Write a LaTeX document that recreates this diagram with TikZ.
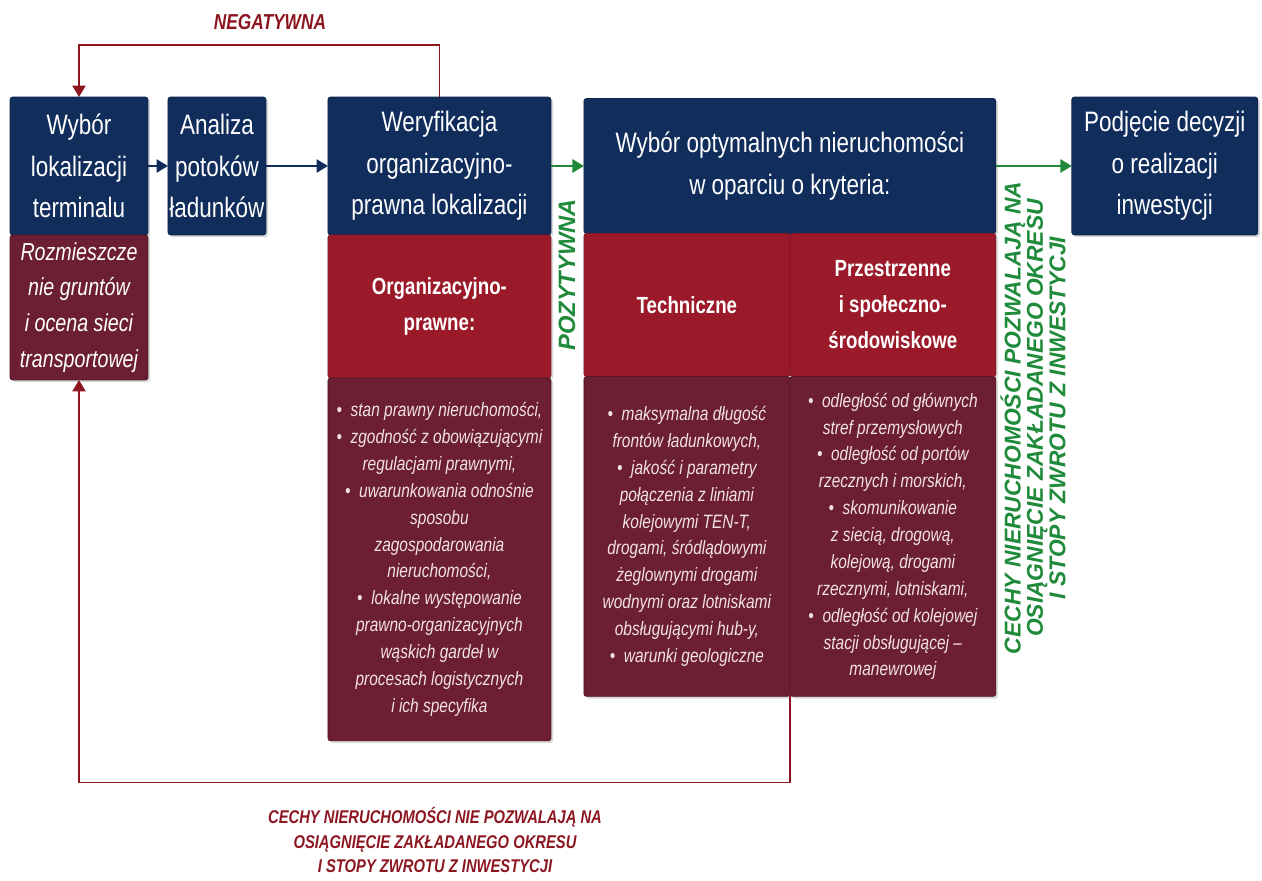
\documentclass[tikz,border=0pt]{standalone}
\usepackage{fontspec}
\setmainfont{Liberation Sans}[FakeStretch=0.8]
\newfontfamily\wideface{Liberation Sans}
\usetikzlibrary{positioning}
\usetikzlibrary{arrows.meta}
\usetikzlibrary{shadows}

\definecolor{navyblue}{RGB}{17,45,92}
\definecolor{headred}{RGB}{155,26,42}
\definecolor{listred}{RGB}{108,30,50}
\definecolor{arrowgreen}{RGB}{30,138,58}
\definecolor{backred}{RGB}{140,22,32}
\definecolor{listtext}{RGB}{242,226,232}

\newcommand{\itembul}{\textbullet\hspace{0.45em}}

\begin{document}
\begin{tikzpicture}[x=0.02cm,y=-0.02cm,
    box/.style={rectangle,rounded corners=1.5pt,inner sep=2pt,outer sep=0pt,align=center,
      drop shadow={opacity=0.3,shadow xshift=1.2pt,shadow yshift=-1.2pt}},
    navybox/.style={box,align=flush center,inner xsep=0pt,fill=navyblue,draw=navyblue!80!black,text=white,font=\fontsize{16}{23.5}\selectfont},
    headbox/.style={box,fill=headred,draw=headred!80!black,text=white,font=\bfseries\fontsize{13.3}{20.5}\selectfont},
    listbox/.style={box,fill=listred,draw=listred!80!black,text=listtext,font=\itshape\fontsize{11}{15.3}\selectfont},
    flow/.style={-{Triangle[length=6.5pt,width=7.5pt]},line width=1.2pt},
    backloop/.style={-{Triangle[length=6.5pt,width=7.5pt]},line width=1pt,backred},
    redlabel/.style={text=backred,align=center,font=\bfseries\itshape\fontsize{10.5}{14}\selectfont},
    greenlabel/.style={text=arrowgreen,rotate=90,align=center,font=\wideface\bfseries\itshape\fontsize{13}{11.5}\selectfont}]
  \useasboundingbox (0,0) rectangle (1262,881);

  % top row
  \node[navybox,text width=2.76cm,minimum width=2.76cm,minimum height=2.76cm,name=wybor] at (79,166) {Wybór\\lokalizacji\\terminalu};
  \node[navybox,text width=1.96cm,minimum width=1.96cm,minimum height=2.76cm,name=analiza,right=0.4cm of wybor] {Analiza\\potoków\\ładunków};
  \node[navybox,text width=4.46cm,minimum width=4.46cm,minimum height=2.76cm,name=wer,right=1.24cm of analiza] {Weryfikacja\\organizacyjno-\\prawna lokalizacji};
  \node[navybox,text width=8.24cm,minimum width=8.24cm,minimum height=2.70cm,name=kryt,right=0.66cm of wer] {Wybór optymalnych nieruchomości\\w oparciu o kryteria:};
  \node[navybox,text width=3.72cm,minimum width=3.72cm,minimum height=2.76cm,name=decyzja,right=1.52cm of kryt] {Podjęcie decyzji\\o realizacji\\inwestycji};

  % parts below
  \node[listbox,font=\itshape\fontsize{14}{20.4}\selectfont,text=white,minimum width=2.76cm,minimum height=2.9cm,name=rozm,below=0pt of wybor] {Rozmieszcze\\nie gruntów\\i ocena sieci\\transportowej};
  \node[headbox,minimum width=4.46cm,minimum height=2.86cm,name=organ,below=0pt of wer] {Organizacyjno-\\prawne:};
  \node[listbox,minimum width=4.46cm,minimum height=7.26cm,name=organlist,below=0pt of organ] {\itembul stan prawny nieruchomości,\\\itembul zgodność z obowiązującymi\\regulacjami prawnymi,\\\itembul uwarunkowania odnośnie\\sposobu\\zagospodarowania\\nieruchomości,\\\itembul lokalne występowanie\\prawno-organizacyjnych\\wąskich gardeł w\\procesach logistycznych\\i ich specyfika};
  \node[headbox,minimum width=4.12cm,minimum height=2.86cm,name=techh,below right=0pt and 0pt of kryt.south west] {Techniczne};
  \node[headbox,minimum width=4.12cm,minimum height=2.86cm,name=przh,right=0pt of techh] {Przestrzenne\\i społeczno-\\środowiskowe};
  \node[listbox,minimum width=4.12cm,minimum height=6.4cm,name=techl,below=0pt of techh] {\itembul maksymalna długość\\frontów ładunkowych,\\\itembul jakość i parametry\\połączenia z liniami\\kolejowymi TEN-T,\\drogami, śródlądowymi\\żeglownymi drogami\\wodnymi oraz lotniskami\\obsługującymi hub-y,\\\itembul warunki geologiczne};
  \node[listbox,minimum width=4.12cm,minimum height=6.4cm,name=przl,below=0pt of przh] {\itembul odległość od głównych\\stref przemysłowych\\\itembul odległość od portów\\rzecznych i morskich,\\\itembul skomunikowanie\\z siecią, drogową,\\kolejową, drogami\\rzecznymi, lotniskami,\\\itembul odległość od kolejowej\\stacji obsługującej --\\manewrowej};

  % labels
  \node[redlabel,font=\bfseries\itshape\fontsize{12.3}{15}\selectfont,name=neg] at (270,22) {NEGATYWNA};
  \node[greenlabel,font=\wideface\bfseries\itshape\fontsize{13.5}{15}\selectfont,name=pozyt] at (567,275) {POZYTYWNA};
  \node[greenlabel,name=pozw] at (1033,418) {CECHY NIERUCHOMOŚCI POZWALAJĄ NA\\OSIĄGNIĘCIE ZAKŁADANEGO OKRESU\\I STOPY ZWROTU Z INWESTYCJI};
  \node[redlabel,name=niepozw] at (435,840) {CECHY NIERUCHOMOŚCI NIE POZWALAJĄ NA\\OSIĄGNIĘCIE ZAKŁADANEGO OKRESU\\I STOPY ZWROTU Z INWESTYCJI};

  % connectors
  \draw[flow,navyblue] (wybor.east) -- (wybor.east -| analiza.west);
  \draw[flow,navyblue] (analiza.east) -- (analiza.east -| wer.west);
  \draw[flow,arrowgreen] (wer.east) -- (wer.east -| kryt.west);
  \draw[flow,arrowgreen] (kryt.east) -- (kryt.east -| decyzja.west);
  \draw[backloop] (wer.north) -- ++(0,-52) -| (wybor.north);
  \draw[backloop] (techl.south east) -- ++(0,86) -| (rozm.south);
\end{tikzpicture}
\end{document}
